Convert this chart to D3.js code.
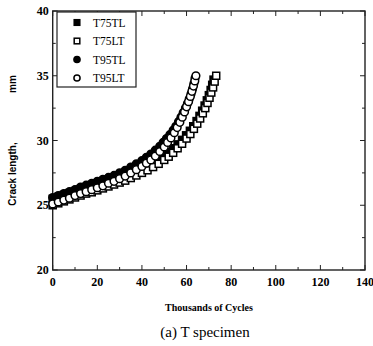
<!DOCTYPE html>
<html>
<head>
<meta charset="utf-8">
<script src="https://cdn.jsdelivr.net/npm/d3@7"></script>
<style>
  html, body { margin: 0; padding: 0; background: #fff; }
  svg { display: block; }
</style>
</head>
<body>
<svg id="chart" width="373" height="346"></svg>
<script>
// Crack length (mm) against thousands of cycles for four T specimens
const seriesNames = ["T75TL", "T75LT", "T95TL", "T95LT"];

const t75tlCycles = [0, 2.5, 5, 7.5, 10, 12.5, 15, 17.5, 20, 22.5, 25, 27.5, 30, 32.5, 35, 37.5, 40, 42.5, 45, 47.5, 50, 52, 54, 56, 58, 59.8, 61.5, 63, 64.5, 65.8, 67, 68.1, 69.1, 70, 70.8, 71.5, 72.1];
const t75tlLength = [25.5, 25.65, 25.8, 25.95, 26.1, 26.25, 26.4, 26.55, 26.65, 26.8, 26.95, 27.1, 27.25, 27.4, 27.55, 27.7, 27.9, 28.1, 28.3, 28.55, 28.85, 29.1, 29.4, 29.7, 30.05, 30.4, 30.75, 31.1, 31.5, 31.9, 32.3, 32.7, 33.1, 33.5, 33.9, 34.3, 34.7];

const t75ltCycles = [0, 2.5, 5, 7.5, 10, 12.5, 15, 17.5, 20, 22.5, 25, 27.5, 30, 32.5, 35, 37.5, 40, 42.5, 45, 47.5, 50, 52, 54, 56, 58, 60, 61.7, 63.3, 64.8, 66.1, 67.3, 68.4, 69.4, 70.3, 71.1, 71.9, 72.6, 73.3];
const t75ltLength = [25.0, 25.15, 25.3, 25.45, 25.6, 25.75, 25.9, 26.0, 26.15, 26.3, 26.45, 26.6, 26.75, 26.9, 27.1, 27.3, 27.5, 27.7, 27.95, 28.2, 28.5, 28.75, 29.05, 29.4, 29.75, 30.15, 30.5, 30.9, 31.3, 31.7, 32.1, 32.5, 32.9, 33.3, 33.7, 34.1, 34.55, 35.0];

const t95tlCycles = [0, 2.5, 5, 7.5, 10, 12.5, 15, 17.5, 20, 22.5, 25, 27.5, 30, 32.5, 35, 37.5, 40, 42, 44, 46, 48, 49.5, 51, 52.5, 54, 55.2, 56.4, 57.5, 58.5, 59.5, 60.4, 61.2, 62, 62.7, 63.3, 63.8];
const t95tlLength = [25.6, 25.75, 25.9, 26.05, 26.2, 26.4, 26.55, 26.7, 26.85, 27.0, 27.15, 27.3, 27.5, 27.7, 27.95, 28.2, 28.45, 28.7, 28.95, 29.25, 29.55, 29.85, 30.15, 30.45, 30.8, 31.1, 31.45, 31.8, 32.15, 32.5, 32.85, 33.2, 33.6, 34.0, 34.4, 34.8];

const t95ltCycles = [0, 2.5, 5, 7.5, 10, 12.5, 15, 17.5, 20, 22.5, 25, 27.5, 30, 32.5, 35, 37.5, 40, 42, 44, 46, 48, 50, 51.5, 53, 54.5, 55.8, 57, 58.1, 59.1, 60, 60.9, 61.7, 62.4, 63.1, 63.7, 64.2];
const t95ltLength = [25.1, 25.25, 25.4, 25.55, 25.75, 25.9, 26.05, 26.2, 26.35, 26.5, 26.7, 26.85, 27.05, 27.25, 27.5, 27.75, 28.0, 28.25, 28.5, 28.8, 29.15, 29.5, 29.85, 30.2, 30.6, 31.0, 31.4, 31.8, 32.2, 32.6, 33.0, 33.4, 33.8, 34.2, 34.6, 35.0];

const xTickValues = [0, 20, 40, 60, 80, 100, 120, 140];
const yTickValues = [20, 25, 30, 35, 40];

const series = [
  { name: "T75TL", x: t75tlCycles, y: t75tlLength, shape: "square", filled: true },
  { name: "T95TL", x: t95tlCycles, y: t95tlLength, shape: "circle", filled: true },
  { name: "T75LT", x: t75ltCycles, y: t75ltLength, shape: "square", filled: false },
  { name: "T95LT", x: t95ltCycles, y: t95ltLength, shape: "circle", filled: false }
];
const legendOrder = ["T75TL", "T75LT", "T95TL", "T95LT"];

const svg = d3.select("#chart");
const plotLeft = 52.7, plotRight = 365, plotTop = 11, plotBottom = 270;

const x = d3.scaleLinear().domain([0, 140]).range([plotLeft, plotRight]);
const y = d3.scaleLinear().domain([20, 40]).range([plotBottom, plotTop]);

const serif = "'Liberation Serif', 'DejaVu Serif', serif";

// Inward major and minor ticks on all four sides
const xMinor = d3.range(10, 140, 20);
const yMinor = d3.range(22.5, 40, 5);
const g = svg.append("g").attr("stroke", "#222").attr("stroke-width", 1);
xTickValues.forEach(v => {
  g.append("line").attr("x1", x(v)).attr("x2", x(v)).attr("y1", plotBottom).attr("y2", plotBottom - 5);
  g.append("line").attr("x1", x(v)).attr("x2", x(v)).attr("y1", plotTop).attr("y2", plotTop + 5);
});
xMinor.forEach(v => {
  g.append("line").attr("x1", x(v)).attr("x2", x(v)).attr("y1", plotBottom).attr("y2", plotBottom - 3);
  g.append("line").attr("x1", x(v)).attr("x2", x(v)).attr("y1", plotTop).attr("y2", plotTop + 3);
});
yTickValues.forEach(v => {
  g.append("line").attr("x1", plotLeft).attr("x2", plotLeft + 5).attr("y1", y(v)).attr("y2", y(v));
  g.append("line").attr("x1", plotRight).attr("x2", plotRight - 5).attr("y1", y(v)).attr("y2", y(v));
});
yMinor.forEach(v => {
  g.append("line").attr("x1", plotLeft).attr("x2", plotLeft + 3).attr("y1", y(v)).attr("y2", y(v));
  g.append("line").attr("x1", plotRight).attr("x2", plotRight - 3).attr("y1", y(v)).attr("y2", y(v));
});

// Frame
svg.append("rect")
  .attr("x", plotLeft).attr("y", plotTop)
  .attr("width", plotRight - plotLeft).attr("height", plotBottom - plotTop)
  .attr("fill", "none").attr("stroke", "#222").attr("stroke-width", 1.4);

// Tick labels
svg.append("g").selectAll("text").data(xTickValues).join("text")
  .attr("x", d => x(d)).attr("y", plotBottom + 16)
  .attr("text-anchor", "middle")
  .attr("font-family", serif).attr("font-weight", "bold").attr("font-size", 12)
  .text(d => d);
svg.append("g").selectAll("text").data(yTickValues).join("text")
  .attr("x", plotLeft - 4).attr("y", d => y(d) + 4)
  .attr("text-anchor", "end")
  .attr("font-family", serif).attr("font-weight", "bold").attr("font-size", 12)
  .text(d => d);

// Axis titles and caption
svg.append("text")
  .attr("x", 209).attr("y", 311)
  .attr("text-anchor", "middle")
  .attr("font-family", serif).attr("font-weight", "bold").attr("font-size", 10)
  .text("Thousands of Cycles");
svg.append("text")
  .attr("x", 205).attr("y", 337)
  .attr("text-anchor", "middle")
  .attr("font-family", serif).attr("font-size", 15)
  .text("(a) T specimen");
svg.append("text")
  .attr("transform", "translate(16,174) rotate(-90)")
  .attr("text-anchor", "middle")
  .attr("font-family", "'Liberation Sans', Arial, sans-serif").attr("font-weight", "bold").attr("font-size", 10)
  .text("Crack length,");
svg.append("text")
  .attr("transform", "translate(16,84) rotate(-90)")
  .attr("text-anchor", "middle")
  .attr("font-family", "'Liberation Sans', Arial, sans-serif").attr("font-weight", "bold").attr("font-size", 10)
  .text("mm");

// Marker drawing
function drawMarker(sel, shape, filled, cx, cy, size) {
  if (shape === "square") {
    sel.append("rect")
      .attr("x", cx - size).attr("y", cy - size).attr("width", size * 2).attr("height", size * 2)
      .attr("fill", filled ? "#000" : "#fff")
      .attr("stroke", "#000").attr("stroke-width", 1.5);
  } else {
    sel.append("circle")
      .attr("cx", cx).attr("cy", cy).attr("r", size * 1.1)
      .attr("fill", filled ? "#000" : "#fff")
      .attr("stroke", "#000").attr("stroke-width", 1.5);
  }
}

const plot = svg.append("g");
series.forEach(s => {
  const layer = plot.append("g");
  s.x.forEach((v, i) => drawMarker(layer, s.shape, s.filled, x(v), y(s.y[i]), 3.5));
});

// Legend
const legend = svg.append("g");
legend.append("rect")
  .attr("x", 57).attr("y", 12).attr("width", 79).attr("height", 75)
  .attr("fill", "#fff").attr("stroke", "#222").attr("stroke-width", 1.2);
legendOrder.forEach((name, i) => {
  const s = series.find(d => d.name === name);
  const ly = 22.5 + i * 18.5;
  const item = legend.append("g");
  drawMarker(item, s.shape, s.filled, 77, ly, 2.8);
  item.append("text")
    .attr("x", 93).attr("y", ly + 4)
    .attr("font-family", serif).attr("font-size", 11.5)
    .text(name);
});
</script>
</body>
</html>
